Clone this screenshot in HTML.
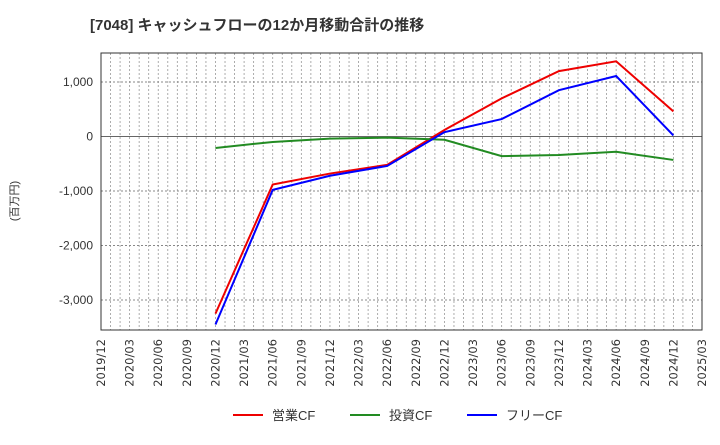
<!DOCTYPE html>
<html><head><meta charset="utf-8"><style>
body{margin:0;background:#fff;font-family:"Liberation Sans","Noto Sans CJK JP",sans-serif;}
svg text{font-family:"Liberation Sans","Noto Sans CJK JP",sans-serif;}
svg text.xl{font-family:"DejaVu Sans","Liberation Sans",sans-serif;}
</style></head><body>
<svg id="c" width="720" height="440">
<text x="90" y="30" font-size="15" font-weight="bold" fill="#333">[7048]  キャッシュフローの12か月移動合計の推移</text>
<text transform="translate(18,201) rotate(-90)" font-size="11" fill="#333" text-anchor="middle">(百万円)</text>
<g id="grid"></g><g id="axes"></g><g id="series"></g>
<g>
<line x1="233" y1="415" x2="263" y2="415" stroke="#e00" stroke-width="2"/>
<text x="272" y="420" font-size="13" fill="#333">営業CF</text>
<line x1="350" y1="415" x2="380" y2="415" stroke="#228b22" stroke-width="2"/>
<text x="389" y="420" font-size="13" fill="#333">投資CF</text>
<line x1="467" y1="415" x2="497" y2="415" stroke="#00f" stroke-width="2"/>
<text x="506" y="420" font-size="13" fill="#333">フリーCF</text>
</g>
</svg>
<script>
const xLabels=["2019/12","2020/03","2020/06","2020/09","2020/12","2021/03","2021/06","2021/09","2021/12","2022/03","2022/06","2022/09","2022/12","2023/03","2023/06","2023/09","2023/12","2024/03","2024/06","2024/09","2024/12","2025/03"];
const yTicks=[1000,0,-1000,-2000,-3000];
const yTickLabels=["1,000","0","-1,000","-2,000","-3,000"];
const dates=["2020/12","2021/06","2021/12","2022/06","2022/12","2023/06","2023/12","2024/06","2024/12"];
const operatingCF=[-3250,-880,-680,-520,120,700,1200,1380,460];
const investingCF=[-210,-100,-40,-20,-60,-360,-340,-280,-430];
const freeCF=[-3450,-980,-720,-540,80,320,850,1110,20];
const L=101,R=702,T=53,B=330;
const ns="http://www.w3.org/2000/svg";
function X(i){return L+(R-L)*i/(xLabels.length-1);}
function xd(d){return X(xLabels.indexOf(d));}
function Y(v){return 136.5-v*0.0545;}
function mk(t,a,p){const e=document.createElementNS(ns,t);for(const k in a)e.setAttribute(k,a[k]);p.appendChild(e);return e;}
const g=document.getElementById('grid'),ax=document.getElementById('axes'),s=document.getElementById('series');
for(let m=1;m<(xLabels.length-1)*3;m++){const x=L+(R-L)*m/((xLabels.length-1)*3);
const e=mk('line',{x1:x,x2:x,y1:T,y2:B,stroke:'#999','stroke-width':0.8,'stroke-dasharray':'2,2'},g);

}
yTicks.forEach((v,i)=>{const e=mk('line',{x1:L,x2:R,y1:Y(v),y2:Y(v),stroke:v===0?'#666':'#888','stroke-width':0.9,'stroke-dasharray':v===0?'none':'2,2'},g);


const t=mk('text',{x:L-8,y:Y(v)+4,'font-size':12,fill:'#333','text-anchor':'end'},ax);t.textContent=yTickLabels[i];

});
const f=mk('rect',{x:L,y:T,width:R-L,height:B-T,fill:'none',stroke:'#333','stroke-width':1},ax);


xLabels.forEach((l,i)=>{const t=mk('text',{class:'xl',transform:`translate(${X(i)+4},339) rotate(-90)`,'font-size':11.5,fill:'#333','text-anchor':'end'},ax);t.textContent=l;

});
[[operatingCF,'#e00','operating-cf-line'],[investingCF,'#228b22','investing-cf-line'],[freeCF,'#00f','free-cf-line']].forEach(([d,c,n])=>{
const p=mk('polyline',{points:d.map((v,i)=>xd(dates[i])+','+Y(v)).join(' '),fill:'none',stroke:c,'stroke-width':2},s);

});
</script>
</body></html>
